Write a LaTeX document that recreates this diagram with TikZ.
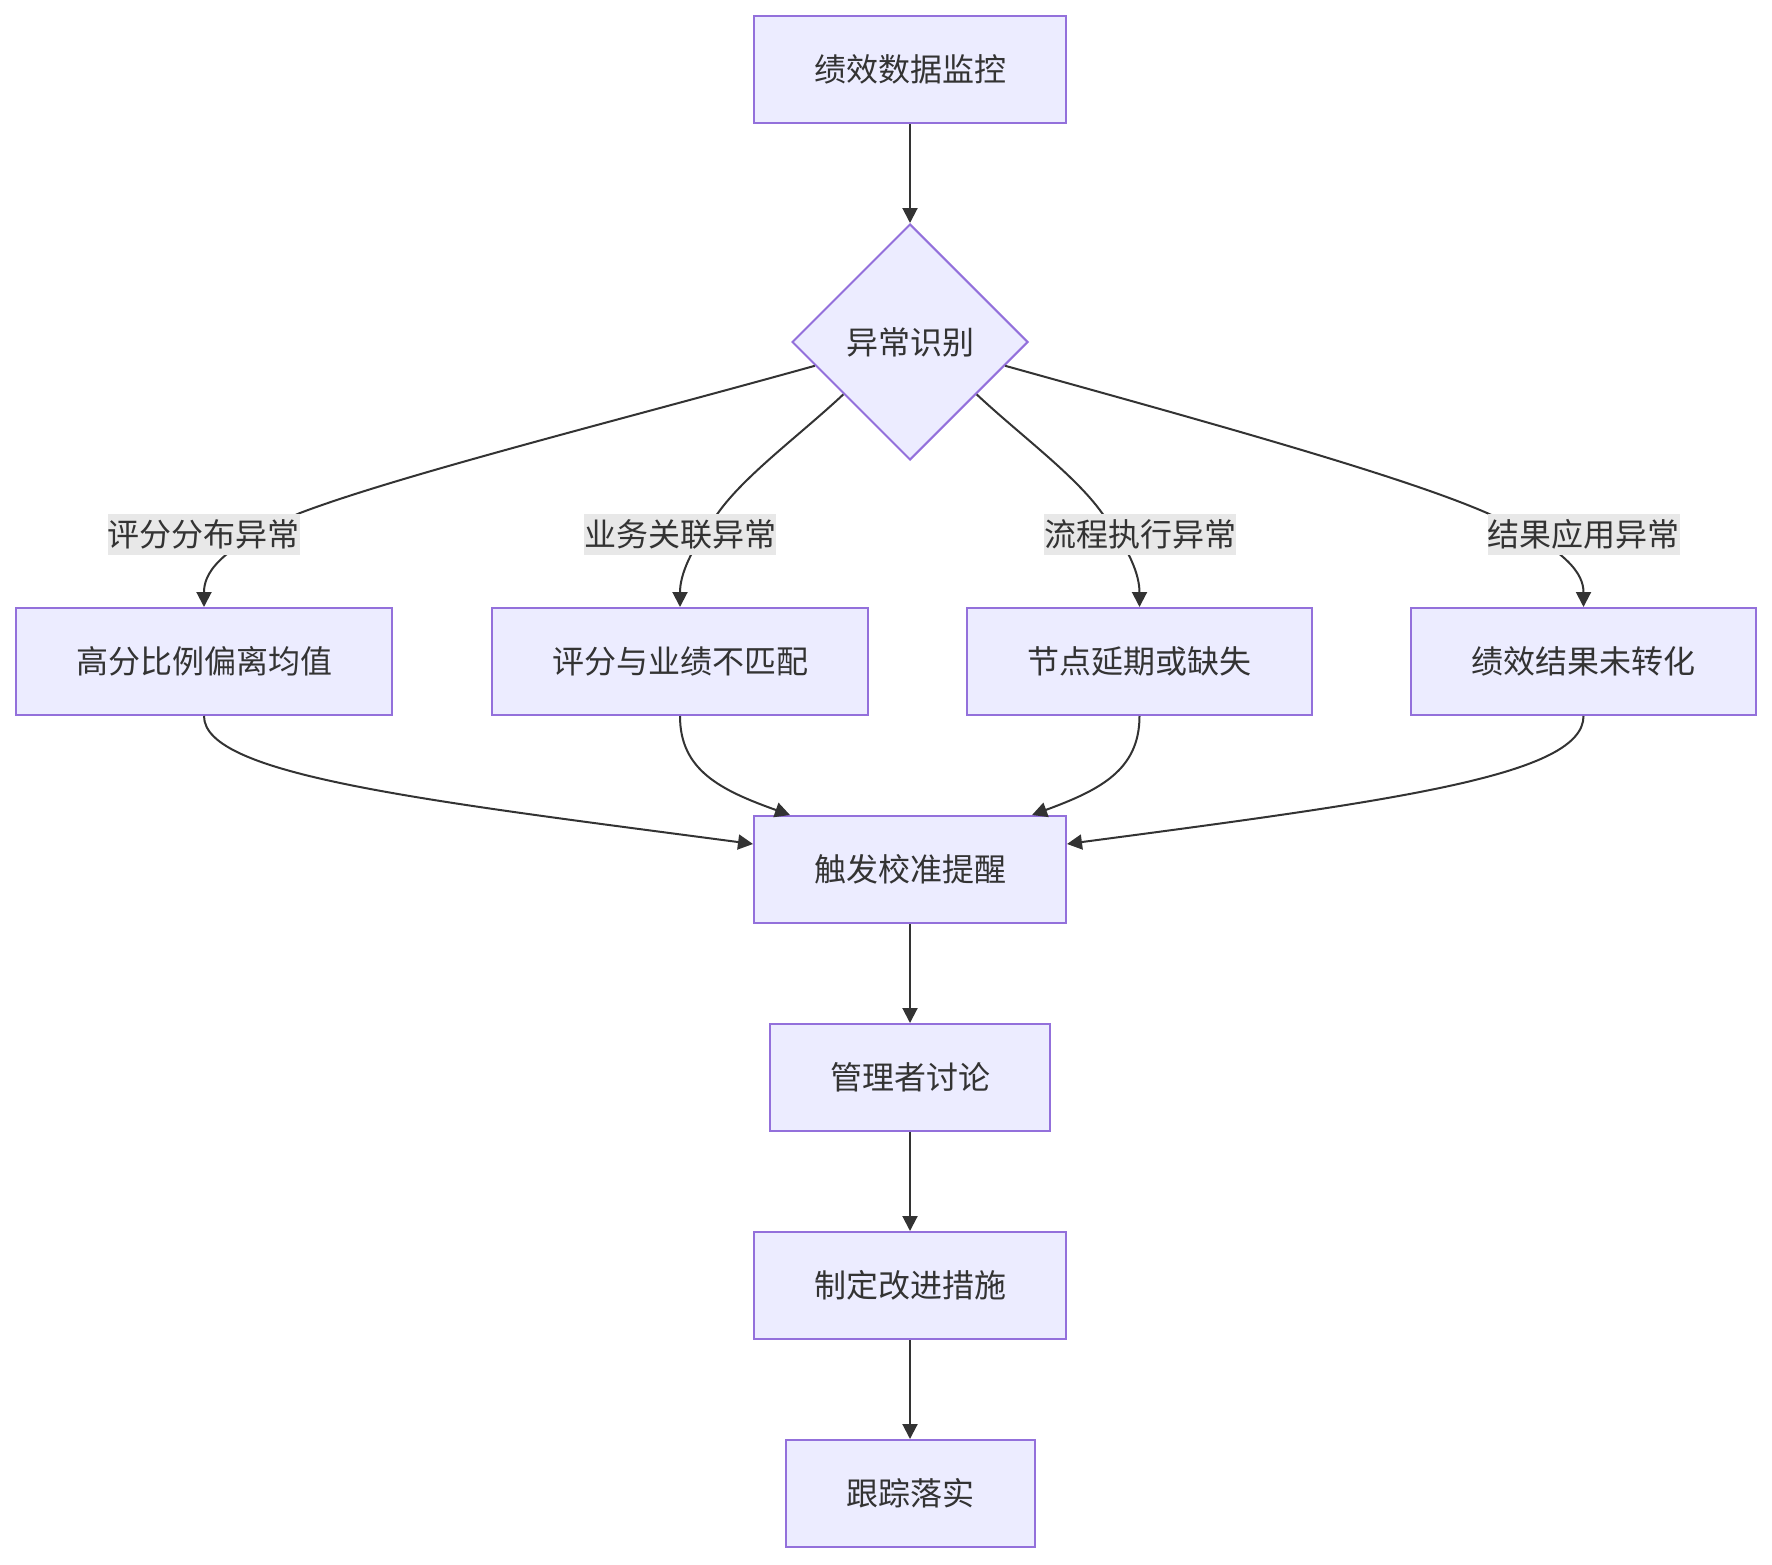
\documentclass[tikz,border=0pt]{standalone}
\usepackage{fontspec}
\newfontfamily\cjk{Noto Sans CJK SC}
\usetikzlibrary{shapes.geometric,arrows.meta,calc}
\definecolor{nodefill}{HTML}{ECECFF}
\definecolor{nodeline}{HTML}{9370DB}
\definecolor{txt}{HTML}{333333}
\definecolor{lblbg}{HTML}{E8E8E8}
\begin{document}
\begin{tikzpicture}[x=1pt,y=-1pt,
  cjkfont/.style={font=\cjk\fontsize{32}{38}\selectfont},
  box/.style={draw=nodeline, fill=nodefill, line width=2pt, minimum height=107pt, inner sep=0pt, text=txt, cjkfont},
  dec/.style={diamond, draw=nodeline, fill=nodefill, line width=2pt, minimum width=236pt, minimum height=236pt, inner sep=0pt, text=txt, cjkfont},
  lbl/.style={fill=lblbg, inner sep=0pt, minimum height=41pt, text=txt, cjkfont},
  edge/.style={draw=txt, line width=2pt, -{Triangle[length=15pt,width=15pt]}}
]
\useasboundingbox (0,0) rectangle (1772,1564);

\node[box, minimum width=312pt] (top) at (910,69.5) {绩效数据监控};
\node[dec] (dia) at (910,342) {异常识别};
\node[box, minimum width=376pt] (b1) at (204,661.5) {高分比例偏离均值};
\node[box, minimum width=376pt] (b2) at (680,661.5) {评分与业绩不匹配};
\node[box, minimum width=345pt] (b3) at (1139.5,661.5) {节点延期或缺失};
\node[box, minimum width=345pt] (b4) at (1583.5,661.5) {绩效结果未转化};
\node[box, minimum width=312pt] (trig) at (910,869.5) {触发校准提醒};
\node[box, minimum width=280pt] (mgr) at (910,1077.5) {管理者讨论};
\node[box, minimum width=312pt] (plan) at (910,1285.5) {制定改进措施};
\node[box, minimum width=249pt] (track) at (910,1493.5) {跟踪落实};

% straight connectors
\draw[edge] (top.south) -- (dia.north);
\draw[edge] (trig.south) -- (mgr.north);
\draw[edge] (mgr.south) -- (plan.north);
\draw[edge] (plan.south) -- (track.north);

% diamond to branch boxes
\draw[edge] ($(dia.west)!0.2!(dia.south)$) .. controls (620,420) and (400,475) .. (300,513)
  .. controls (215,550) and (204,575) .. (b1.north);
\draw[edge] ($(dia.west)!0.44!(dia.south)$) .. controls (800,435) and (745,475) .. (718,513)
  .. controls (690,550) and (680,575) .. (b2.north);
\draw[edge] ($(dia.east)!0.44!(dia.south)$) .. controls (1020,435) and (1075,475) .. (1102,513)
  .. controls (1130,550) and (1139.5,575) .. (b3.north);
\draw[edge] ($(dia.east)!0.2!(dia.south)$) .. controls (1200,420) and (1400,475) .. (1487,513)
  .. controls (1570,550) and (1583.5,575) .. (b4.north);

% edge labels
\node[lbl] (l1) at (203.5,534.5) {评分分布异常};
\node[lbl] (l2) at (680,534.5) {业务关联异常};
\node[lbl] (l3) at (1140,534.5) {流程执行异常};
\node[lbl] (l4) at (1583.5,534.5) {结果应用异常};

% branch boxes to trigger
\draw[edge] (b1.south) .. controls (204,775) and (420,800) .. ($(trig.north west)+(0,29)$);
\draw[edge] (b2.south) .. controls (680,770) and (720,790) .. ($(trig.north west)+(37,0)$);
\draw[edge] (b3.south) .. controls (1139.5,770) and (1100,790) .. ($(trig.north east)+(-35,0)$);
\draw[edge] (b4.south) .. controls (1583.5,775) and (1400,800) .. ($(trig.north east)+(0,29)$);
\end{tikzpicture}
\end{document}
